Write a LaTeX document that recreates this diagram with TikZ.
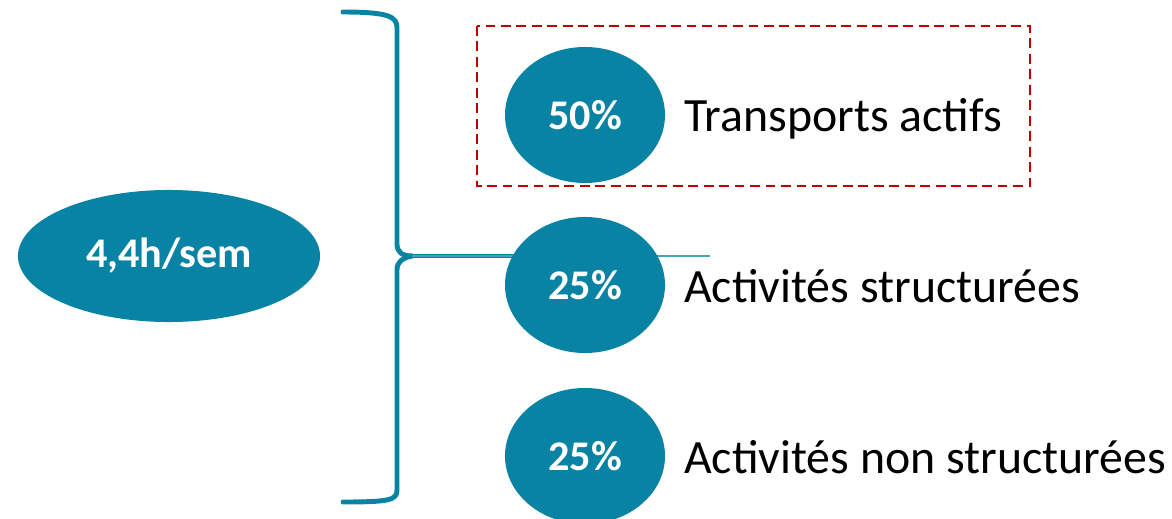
\documentclass[tikz,border=0pt]{standalone}
\usepackage{fontspec}
\setmainfont{Carlito}
\usepackage{tikz}
\usetikzlibrary{shapes.geometric,backgrounds}
\definecolor{Teal}{HTML}{0983A3}
\definecolor{DashRed}{HTML}{C00000}

\tikzset{
  blob/.style={ellipse,fill=Teal,draw=none,inner sep=0pt,text=white,
    font=\fontsize{30}{36}\selectfont\bfseries},
  share/.style={blob,minimum width=4cm,minimum height=3.4cm},
  lbl/.style={anchor=base west,inner sep=0pt,font=\fontsize{34}{40}\selectfont},
  brace/.style={Teal,line width=3.5pt,line cap=round}
}

\begin{document}
\begin{tikzpicture}[x=0.025cm,y=-0.025cm]
  \useasboundingbox (0,0) rectangle (1172,519);
  % total time and the three shares
  \node[blob,minimum width=7.55cm,minimum height=3.3cm] (total) at (169,256) {4,4h/sem};
  \node[share] (pa) at (585,115) {50\%};
  \node[share] (pb) at (585,285) {25\%};
  \node[share] (pc) at (585,456) {25\%};
  \node[lbl] (la) at (684,132) {Transports actifs};
  \node[lbl] (lb) at (684,302) {Activités structurées};
  \node[lbl] (lc) at (684,473) {Activités non structurées};
  % highlight box
  \draw[DashRed,line width=1.4pt,dash pattern=on 7pt off 4pt] (477,26) rectangle (1030,186);
  \begin{scope}[on background layer]
    \coordinate (tip) at (412,256);
    \coordinate (tail) at (710,256);
    \draw[brace] (343,12) .. controls (390,12) and (397,17) .. (397,28) -- (397,244)
      .. controls (397,252) and (402,256) .. (tip);
    \draw[brace] (tip) .. controls (402,258) and (397,262) .. (397,270) -- (397,490)
      .. controls (397,500) and (390,502) .. (343,502);
    \draw[Teal,line width=3pt] (tip) -- (tip -| pb);
    \draw[Teal!75,line width=1pt] (tip) -- (tail);
  \end{scope}
\end{tikzpicture}
\end{document}
